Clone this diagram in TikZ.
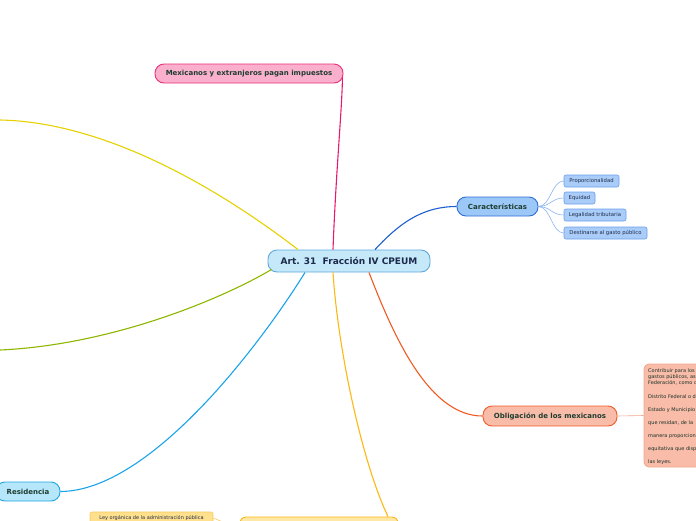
\documentclass[tikz,border=0pt]{standalone}
\usepackage{fontspec}
\setmainfont{DejaVu Sans}
\definecolor{cfill}{HTML}{C6E9FA}
\definecolor{cdraw}{HTML}{5DA9DD}
\definecolor{ctext}{HTML}{1B2A4A}
\definecolor{pfill}{HTML}{FAB0CD}
\definecolor{pdraw}{HTML}{E8307A}
\definecolor{gtext}{HTML}{1E3D30}
\definecolor{kfill}{HTML}{9CC8F7}
\definecolor{kdraw}{HTML}{2B6FD6}
\definecolor{sfill}{HTML}{A9CCF8}
\definecolor{sdraw}{HTML}{6C9FEA}
\definecolor{stext}{HTML}{1E2B4A}
\definecolor{ofill}{HTML}{F9BCA9}
\definecolor{odraw}{HTML}{F25A29}
\definecolor{tdraw}{HTML}{F2A88C}
\definecolor{rfill}{HTML}{B5E6FA}
\definecolor{rdraw}{HTML}{1EA6E6}
\definecolor{yfill}{HTML}{FFE7A6}
\definecolor{ydraw}{HTML}{FDB813}
\definecolor{lfill}{HTML}{FFE08C}
\definecolor{ldraw}{HTML}{F7C95C}
\definecolor{yellowline}{HTML}{E6D100}
\definecolor{greenline}{HTML}{8DB600}
\definecolor{blueline}{HTML}{1AA3E8}
\definecolor{dblueline}{HTML}{1C5FD0}
\definecolor{redline}{HTML}{F05A24}
\definecolor{pinkline}{HTML}{E8186E}
\definecolor{subline}{HTML}{8AB4EE}
\tikzset{
  pill/.style={draw, line width=0.9pt, rounded corners=9pt, inner sep=0pt, align=center},
  bigtext/.style={font=\fontsize{9}{10}\selectfont\bfseries, text=ctext},
  midtext/.style={font=\fontsize{7}{8}\selectfont\bfseries, text=gtext},
  subnode/.style={draw=sdraw, fill=sfill, line width=0.6pt, rounded corners=2pt, inner sep=0pt,
     minimum height=12pt, font=\fontsize{5.3}{6}\selectfont, text=stext},
  conn/.style={line width=1.1pt},
  thin/.style={line width=0.6pt}
}
\begin{document}
\begin{tikzpicture}[x=1pt,y=-1pt]
\useasboundingbox (0,0) rectangle (696,520);
% central
\node[pill, fill=cfill, draw=cdraw, bigtext, minimum width=162pt, minimum height=22pt] (c) at (349,261) {Art. 31\ \ Fracción IV CPEUM};
% pink
\node[pill, fill=pfill, draw=pdraw, midtext, minimum width=188pt, minimum height=19pt] (p) at (249,73.5) {Mexicanos y extranjeros pagan impuestos};
% caracteristicas
\node[pill, fill=kfill, draw=kdraw, midtext, minimum width=81pt, minimum height=19pt] (k) at (497.5,206.5) {Características};
\node[subnode, minimum width=55pt] (s1) at (591.5,181) {Proporcionalidad};
\node[subnode, minimum width=31pt] (s2) at (579.5,198) {Equidad};
\node[subnode, minimum width=62pt] (s3) at (595,215) {Legalidad tributaria};
\node[subnode, minimum width=83pt] (s4) at (605.5,233) {Destinarse al gasto público};
% obligacion
\node[pill, fill=ofill, draw=odraw, midtext, minimum width=134pt, minimum height=20pt] (o) at (550,416) {Obligación de los mexicanos};
\node[draw=tdraw, fill=ofill, line width=0.9pt, rounded corners=5pt, minimum width=120pt, minimum height=103pt, inner sep=0pt] (t) at (704,415.5) {};
\node[anchor=north west, inner sep=0pt, align=left, font=\fontsize{5}{6}\selectfont, text=gtext!80!black] (tt) at (648,368)
 {Contribuir para los\\gastos públicos, así de la\\Federación, como del\\[8pt]Distrito Federal o del\\[7pt]Estado y Municipio en\\[7pt]que residan, de la\\[7pt]manera proporcional y\\[7pt]equitativa que dispongan\\[7pt]las leyes.};
% residencia
\node[pill, fill=rfill, draw=rdraw, midtext, minimum width=64pt, minimum height=19pt] (r) at (28,491.5) {Residencia};
% bottom yellow
\node[draw=ydraw, fill=yfill, line width=0.9pt, rounded corners=6pt, minimum width=158pt, minimum height=24pt, inner sep=0pt] (y) at (319,529) {};
\node[draw=ldraw, fill=lfill, line width=0.6pt, rounded corners=2pt, minimum width=123pt, minimum height=12pt, inner sep=0pt, font=\fontsize{5}{6}\selectfont, text=stext] (l) at (151.5,518) {Ley orgánica de la administración pública};
% off-canvas ends
\coordinate (yl) at (0,120);
\coordinate (gl) at (0,350);
% connectors
\draw[conn, yellowline] ([xshift=-51pt]c.north) .. controls (218,188) and (105,122) .. (yl);
\draw[conn, greenline] ([xshift=4pt,yshift=3pt]c.south west) .. controls (220,300) and (110,345) .. (gl);
\draw[conn, blueline] ([xshift=-44pt]c.south) .. controls (260,345) and (150,491) .. (r.east);
\draw[conn, ydraw] ([xshift=-16pt]c.south) .. controls (338,350) and (362,462) .. ([xshift=69pt]y.north);
\draw[conn, redline] ([xshift=20pt]c.south) .. controls (395,340) and (430,416) .. (o.west);
\draw[conn, dblueline] ([xshift=26pt]c.north) .. controls (397,226) and (420,206.5) .. (k.west);
\draw[conn, pinkline] ([xshift=-16pt]c.north) .. controls (336,170) and (342,110) .. ([xshift=-1pt,yshift=-4pt]p.east);
\foreach \s in {s1,s2,s3,s4}{
  \draw[thin, subline] (k.east) .. controls +(12,0) and +(-12,0) .. (\s.west);
}
\draw[thin, tdraw] (o.east) -- (t.west);
\draw[thin, ldraw] (l.east) -- (y.west);
\end{tikzpicture}
\end{document}
